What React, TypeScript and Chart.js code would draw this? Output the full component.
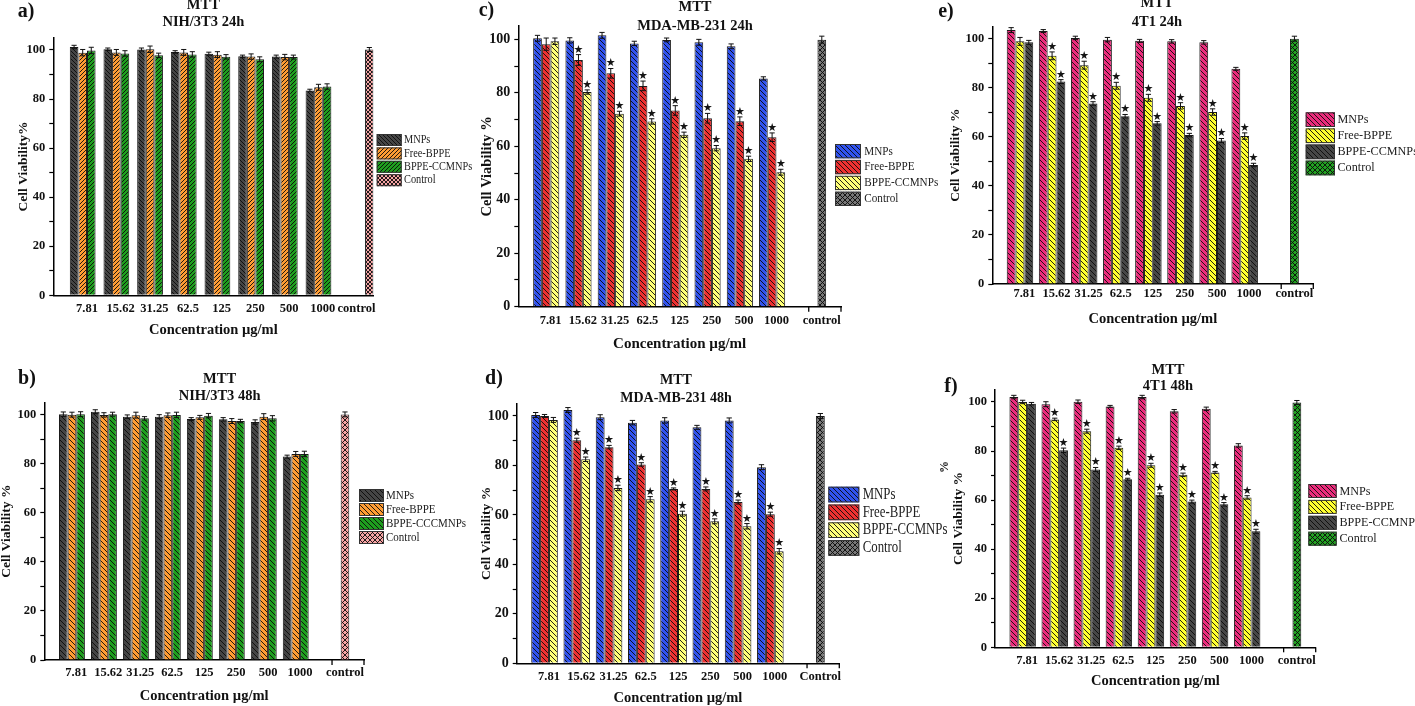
import React, { useEffect, useRef } from 'react';
import { Chart, registerables } from 'chart.js';

Chart.register(...registerables);

const PAGE_W = 1415;
const PAGE_H = 706;

// ---------------- data ----------------
const CONCENTRATIONS = ['7.81', '15.62', '31.25', '62.5', '125', '250', '500', '1000'];
const Y_TICKS = [0, 10, 20, 30, 40, 50, 60, 70, 80, 90, 100];
const Y_LABEL_STEP = 20;
const X_TITLE = 'Concentration µg/ml';

const SERIES_A = ['MNPs', 'Free-BPPE', 'BPPE-CCMNPs', 'Control'];
const SERIES_B = ['MNPs', 'Free-BPPE', 'BPPE-CCCMNPs', 'Control'];
const SERIES_CDEF = ['MNPs', 'Free-BPPE', 'BPPE-CCMNPs', 'Control'];

const NO_STARS = [0, 0, 0, 0, 0, 0, 0, 0];
const SIG_STARS = [0, 1, 1, 1, 1, 1, 1, 1];

// a) NIH/3T3 24h
const A_MNPS = [101.2, 100.3, 100.2, 99.2, 98.5, 97.4, 97.3, 83.5];
const A_FREE = [98.9, 99.0, 100.3, 99.0, 98.1, 97.3, 97.1, 84.8];
const A_BPPE = [99.8, 98.6, 97.8, 98.2, 97.2, 96.2, 97.1, 85.1];
const A_CONTROL = [100.2];
const A_MNPS_ERR = [0.7, 0.5, 0.6, 0.5, 0.6, 0.5, 0.6, 0.5];
const A_FREE_ERR = [1.3, 1.2, 1.3, 1.2, 1.2, 1.1, 1.1, 1.2];
const A_BPPE_ERR = [1.3, 1.1, 0.9, 1.1, 0.9, 1.0, 0.8, 1.1];
const A_CONTROL_ERR = [0.8];

// b) NIH/3T3 48h
const B_MNPS = [100.2, 101.2, 99.2, 99.2, 98.2, 98.1, 97.0, 82.9];
const B_FREE = [100.0, 99.9, 99.8, 99.8, 98.9, 97.4, 99.2, 84.0];
const B_BPPE = [100.2, 100.2, 98.5, 99.9, 99.6, 97.4, 98.5, 84.0];
const B_CONTROL = [100.1];
const B_MNPS_ERR = [0.9, 0.8, 0.7, 0.8, 0.6, 0.7, 0.9, 0.6];
const B_FREE_ERR = [1.0, 0.9, 1.2, 0.9, 0.8, 1.0, 1.2, 1.0];
const B_BPPE_ERR = [1.0, 0.8, 0.7, 1.1, 0.9, 0.7, 1.1, 1.1];
const B_CONTROL_ERR = [1.0];

// c) MDA-MB-231 24h
const C_MNPS = [100.4, 99.6, 101.5, 98.5, 99.8, 98.9, 97.4, 85.4];
const C_FREE = [98.2, 92.3, 87.3, 82.6, 73.4, 70.5, 69.4, 63.4];
const C_BPPE = [99.3, 80.3, 72.2, 69.3, 64.3, 59.3, 55.3, 50.3];
const C_CONTROL = [99.9];
const C_MNPS_ERR = [1.1, 1.0, 1.1, 0.8, 0.7, 1.1, 0.9, 0.6];
const C_FREE_ERR = [2.3, 2.0, 1.8, 1.8, 1.8, 1.8, 1.6, 1.6];
const C_BPPE_ERR = [1.2, 0.8, 0.9, 1.0, 1.0, 1.0, 1.0, 1.1];
const C_CONTROL_ERR = [1.3];

// d) MDA-MB-231 48h
const D_MNPS = [100.4, 102.4, 99.5, 97.3, 98.2, 95.4, 98.2, 79.3];
const D_FREE = [100.0, 90.2, 87.4, 80.4, 70.5, 70.5, 65.2, 60.3];
const D_BPPE = [98.4, 82.5, 70.9, 66.3, 60.5, 57.4, 55.4, 45.3];
const D_CONTROL = [100.0];
const D_MNPS_ERR = [1.0, 1.0, 1.0, 0.9, 1.1, 0.8, 1.0, 1.0];
const D_FREE_ERR = [0.6, 0.8, 0.7, 0.7, 0.4, 0.8, 0.8, 0.8];
const D_BPPE_ERR = [1.0, 0.9, 1.1, 1.1, 1.0, 1.0, 1.1, 1.1];
const D_CONTROL_ERR = [1.0];

// e) 4T1 24h
const E_MNPS = [103.5, 103.1, 100.3, 99.6, 99.1, 98.9, 98.5, 87.7];
const E_FREE = [98.9, 93.0, 89.2, 80.8, 75.9, 72.6, 70.1, 60.3];
const E_BPPE = [98.5, 82.5, 73.6, 68.4, 65.5, 60.7, 58.5, 48.5];
const E_CONTROL = [100.0];
const E_MNPS_ERR = [1.0, 0.6, 0.7, 0.9, 0.6, 0.7, 0.7, 0.6];
const E_FREE_ERR = [1.6, 1.6, 1.6, 1.4, 1.4, 1.3, 1.3, 1.3];
const E_BPPE_ERR = [0.8, 0.8, 0.7, 0.7, 0.7, 0.7, 0.8, 0.7];
const E_CONTROL_ERR = [1.0];

// f) 4T1 48h
const F_MNPS = [102.0, 99.1, 100.1, 98.2, 102.0, 96.2, 97.2, 82.3];
const F_FREE = [100.0, 92.9, 88.1, 81.3, 74.2, 70.3, 71.3, 61.1];
const F_BPPE = [99.3, 80.3, 72.5, 68.5, 62.2, 59.4, 58.3, 47.3];
const F_CONTROL = [99.8];
const F_MNPS_ERR = [0.7, 1.0, 0.7, 0.4, 0.7, 0.7, 0.7, 0.7];
const F_FREE_ERR = [0.7, 0.5, 0.8, 0.7, 0.8, 0.7, 0.4, 0.7];
const F_BPPE_ERR = [0.5, 0.9, 0.8, 0.4, 0.7, 0.6, 0.7, 0.8];
const F_CONTROL_ERR = [0.8];

// ---------------- styles ----------------
const NIH_COLORS = ['#454545', '#ff9c33', '#1e9e1e', '#f6a4a4'];
const MDA_COLORS = ['#3153ee', '#ee3131', '#ffff77', '#777777'];
const T41_COLORS = ['#ec2c7c', '#ffff2e', '#474747', '#22a022'];

const SERIF = '"Liberation Serif", "Times New Roman", serif';

const PANELS: any[] = [
  {
    id: 'a', letter: 'a)', titles: ['MTT', 'NIH/3T3 24h'], yTitle: 'Cell Viability%', ctrlLabel: 'control',
    series: SERIES_A, values: [A_MNPS, A_FREE, A_BPPE], errors: [A_MNPS_ERR, A_FREE_ERR, A_BPPE_ERR],
    stars: [NO_STARS, NO_STARS, NO_STARS], control: A_CONTROL, controlErr: A_CONTROL_ERR,
    colors: NIH_COLORS, hatch: ['\\', '/', '/', 'x'], gap: 4,
    L: 53.3, R: 373.3, T: 37.7, B: 295.3, xMax: 8.5, cp: 1.02, ctrlTick: 8,
    yTitleX: 23.3, yTitleFs: 13.5, xTitleY: 330, xTitleFs: 14.5, xTickFs: 12.5, xTickPad: 0.5, yTickFs: 12.5,
    letterPos: [26, 11.5], titleX: 203.3, titleY: [5, 22], titleFs: 14.5,
    legend: { x: 376.7, top: 134, pitch: 13.4, w: 25, h: 12, textX: 404, fs: 12, sx: 0.86 },
    extraTicks: [], extras: [],
  },
  {
    id: 'b', letter: 'b)', titles: ['MTT', 'NIH/3T3 48h'], yTitle: 'Cell Viability %', ctrlLabel: 'control',
    series: SERIES_B, values: [B_MNPS, B_FREE, B_BPPE], errors: [B_MNPS_ERR, B_FREE_ERR, B_BPPE_ERR],
    stars: [NO_STARS, NO_STARS, NO_STARS], control: B_CONTROL, controlErr: B_CONTROL_ERR,
    colors: NIH_COLORS, hatch: ['\\', '\\', '\\', 'x'], gap: 5,
    L: 44.3, R: 364, T: 402.4, B: 660, xMax: 9, cp: 1.08, ctrlTick: 8.405,
    yTitleX: 6.7, yTitleFs: 13.5, xTitleY: 696, xTitleFs: 14.5, xTickFs: 12.5, xTickPad: 0.3, yTickFs: 12.5,
    letterPos: [27, 379], titleX: 219.6, titleY: [379.3, 396.7], titleFs: 14.5,
    legend: { x: 359, top: 489, pitch: 14, w: 25, h: 13, textX: 386, fs: 12.5, sx: 0.88 },
    extraTicks: [8, 9], extras: [],
  },
  {
    id: 'c', letter: 'c)', titles: ['MTT', 'MDA-MB-231 24h'], yTitle: 'Cell Viability %', ctrlLabel: 'control',
    series: SERIES_CDEF, values: [C_MNPS, C_FREE, C_BPPE], errors: [C_MNPS_ERR, C_FREE_ERR, C_BPPE_ERR],
    stars: [NO_STARS, SIG_STARS, SIG_STARS], control: C_CONTROL, controlErr: C_CONTROL_ERR,
    colors: MDA_COLORS, hatch: ['\\', '\\', '\\', 'x'], gap: 5,
    L: 518.3, R: 841, T: 26, B: 306.7, xMax: 9, cp: 1.08, ctrlTick: 8.405,
    yTitleX: 487, yTitleFs: 14.5, xTitleY: 344.3, xTitleFs: 15, xTickFs: 12.5, xTickPad: 1.8, yTickFs: 14,
    letterPos: [486.5, 11], titleX: 695, titleY: [7.5, 26.5], titleFs: 14.5,
    legend: { x: 835, top: 144, pitch: 15.9, w: 26, h: 14.3, textX: 864.3, fs: 13, sx: 0.86 },
    extraTicks: [8, 9], extras: [],
  },
  {
    id: 'd', letter: 'd)', titles: ['MTT', 'MDA-MB-231 48h'], yTitle: 'Cell Viability %', ctrlLabel: 'Control',
    series: SERIES_CDEF, values: [D_MNPS, D_FREE, D_BPPE], errors: [D_MNPS_ERR, D_FREE_ERR, D_BPPE_ERR],
    stars: [NO_STARS, SIG_STARS, SIG_STARS], control: D_CONTROL, controlErr: D_CONTROL_ERR,
    colors: MDA_COLORS, hatch: ['\\', '\\', '\\', 'x'], gap: 5,
    L: 516.7, R: 839.3, T: 403.6, B: 663.3, xMax: 9, cp: 1.1, ctrlTick: 8.41,
    yTitleX: 487, yTitleFs: 13.5, xTitleY: 698.3, xTitleFs: 14.5, xTickFs: 12.5, xTickPad: 1.4, yTickFs: 14,
    letterPos: [494, 379], titleX: 676, titleY: [380.5, 398.3], titleFs: 14,
    legend: { x: 828.3, top: 486.7, pitch: 17.8, w: 31, h: 15.7, textX: 862.7, fs: 16, sx: 0.8 },
    extraTicks: [8, 9], extras: [],
  },
  {
    id: 'e', letter: 'e)', titles: ['MTT', '4T1 24h'], yTitle: 'Cell Viability %', ctrlLabel: 'control',
    series: SERIES_CDEF, values: [E_MNPS, E_FREE, E_BPPE], errors: [E_MNPS_ERR, E_FREE_ERR, E_BPPE_ERR],
    stars: [NO_STARS, SIG_STARS, SIG_STARS], control: E_CONTROL, controlErr: E_CONTROL_ERR,
    colors: T41_COLORS, hatch: ['\\', '\\', '\\', 'x'], gap: 5,
    L: 992.3, R: 1313.3, T: 26.4, B: 284, xMax: 9, cp: 1.1, ctrlTick: 8.41,
    yTitleX: 955.3, yTitleFs: 13.5, xTitleY: 319.3, xTitleFs: 14.5, xTickFs: 12.5, xTickPad: -2.5, yTickFs: 12.5,
    letterPos: [946, 12], titleX: 1157, titleY: [3.5, 22.3], titleFs: 14.5,
    legend: { x: 1305.7, top: 112.3, pitch: 16.1, w: 29.3, h: 14.7, textX: 1337.5, fs: 13.5, sx: 0.9 },
    extraTicks: [8, 9], extras: [],
  },
  {
    id: 'f', letter: 'f)', titles: ['MTT', '4T1 48h'], yTitle: 'Cell Viability %', ctrlLabel: 'control',
    series: SERIES_CDEF, values: [F_MNPS, F_FREE, F_BPPE], errors: [F_MNPS_ERR, F_FREE_ERR, F_BPPE_ERR],
    stars: [NO_STARS, SIG_STARS, SIG_STARS], control: F_CONTROL, controlErr: F_CONTROL_ERR,
    colors: T41_COLORS, hatch: ['\\', '\\', '\\', 'x'], gap: 5,
    L: 995, R: 1315.7, T: 389.7, B: 647.3, xMax: 9, cp: 1.1, ctrlTick: 8.41,
    yTitleX: 958.7, yTitleFs: 13.5, xTitleY: 681.7, xTitleFs: 14.5, xTickFs: 12.5, xTickPad: 0.7, yTickFs: 12.5,
    letterPos: [951, 387], titleX: 1168, titleY: [370, 386.7], titleFs: 14.5,
    legend: { x: 1308.3, top: 484, pitch: 15.9, w: 28.4, h: 14, textX: 1339.5, fs: 13.5, sx: 0.9 },
    extraTicks: [8, 9], extras: [{ text: '%', x: 945, y: 467, fs: 12 }],
  },
];

// ---------------- helpers ----------------
function makePattern(ctx: CanvasRenderingContext2D, color: string, dir: string, gap: number) {
  const tile = document.createElement('canvas');
  tile.width = gap;
  tile.height = gap;
  const g = tile.getContext('2d') as CanvasRenderingContext2D;
  g.fillStyle = color;
  g.fillRect(0, 0, gap, gap);
  g.strokeStyle = 'rgba(10,10,10,0.9)';
  g.lineWidth = 1;
  g.beginPath();
  const draw = (d: string) => {
    for (const k of [-gap, 0, gap]) {
      if (d === '\\') {
        g.moveTo(k, 0);
        g.lineTo(k + gap, gap);
      } else {
        g.moveTo(k, gap);
        g.lineTo(k + gap, 0);
      }
    }
  };
  if (dir === 'x') {
    draw('\\');
    draw('/');
  } else {
    draw(dir);
  }
  g.stroke();
  return ctx.createPattern(tile, 'repeat') as CanvasPattern;
}

const STAR_FS = 11;

const decorPlugin = {
  id: 'panelDecor',
  afterDatasetsDraw(chart: any) {
    const ctx = chart.ctx as CanvasRenderingContext2D;
    const yScale = chart.scales.y;
    chart.data.datasets.forEach((ds: any, di: number) => {
      const meta = chart.getDatasetMeta(di);
      meta.data.forEach((el: any, i: number) => {
        const pt = ds.data[i];
        if (!pt || pt.y == null) return;
        const err = (ds.errors && ds.errors[i]) || 0;
        const { x, width } = el.getProps(['x', 'width'], true);
        const yTop = yScale.getPixelForValue(pt.y + err);
        const yBot = yScale.getPixelForValue(pt.y - err);
        const cap = width * 0.3;
        ctx.save();
        ctx.strokeStyle = '#111';
        ctx.lineWidth = 1;
        ctx.beginPath();
        ctx.moveTo(x, yBot);
        ctx.lineTo(x, yTop);
        ctx.moveTo(x - cap, yTop);
        ctx.lineTo(x + cap, yTop);
        ctx.moveTo(x - cap, yBot);
        ctx.lineTo(x + cap, yBot);
        ctx.stroke();
        if (ds.stars && ds.stars[i]) {
          ctx.fillStyle = '#151515';
          ctx.font = `${STAR_FS}px "DejaVu Sans"`;
          ctx.textAlign = 'center';
          ctx.textBaseline = 'alphabetic';
          ctx.fillText('★', x, yTop - 6 + STAR_FS * 0.36);
        }
        ctx.restore();
      });
    });
  },
  afterDraw(chart: any, _args: any, opts: any) {
    const ctx = chart.ctx as CanvasRenderingContext2D;
    const area = chart.chartArea;
    ctx.save();
    ctx.fillStyle = '#111';
    // panel letter
    ctx.font = `bold 20px ${SERIF}`;
    ctx.textAlign = 'center';
    ctx.textBaseline = 'middle';
    ctx.fillText(opts.letter, opts.letterPos[0], opts.letterPos[1]);
    // titles
    ctx.font = `bold ${opts.titleFs}px ${SERIF}`;
    opts.titles.forEach((t: string, i: number) => {
      ctx.fillText(t, opts.titleX, opts.titleY[i]);
    });
    // extra x tick marks
    ctx.strokeStyle = '#000';
    ctx.lineWidth = 1.3;
    const xs = chart.scales.x;
    opts.extraTicks.forEach((v: number) => {
      const px = xs.getPixelForValue(v);
      ctx.beginPath();
      ctx.moveTo(px, area.bottom);
      ctx.lineTo(px, area.bottom + 5);
      ctx.stroke();
    });
    // legend
    const lg = opts.legend;
    chart.data.datasets.forEach((ds: any, i: number) => {
      const y = lg.top + i * lg.pitch;
      ctx.fillStyle = ds.backgroundColor;
      ctx.fillRect(lg.x, y, lg.w, lg.h);
      ctx.strokeStyle = '#333';
      ctx.lineWidth = 1;
      ctx.strokeRect(lg.x + 0.5, y + 0.5, lg.w - 1, lg.h - 1);
      ctx.save();
      ctx.fillStyle = '#222';
      ctx.font = `${lg.fs}px ${SERIF}`;
      ctx.textAlign = 'left';
      ctx.textBaseline = 'middle';
      ctx.translate(lg.textX, y + lg.h / 2);
      ctx.scale(lg.sx, 1);
      ctx.fillText(ds.label, 0, 0);
      ctx.restore();
    });
    // stray glyphs
    opts.extras.forEach((e: any) => {
      ctx.save();
      ctx.fillStyle = '#111';
      ctx.font = `bold ${e.fs}px ${SERIF}`;
      ctx.translate(e.x, e.y);
      ctx.rotate(-Math.PI / 2);
      ctx.textAlign = 'center';
      ctx.textBaseline = 'middle';
      ctx.fillText(e.text, 0, 0);
      ctx.restore();
    });
    ctx.restore();
  },
};

function buildConfig(p: any, ctx: CanvasRenderingContext2D): any {
  const patterns = p.colors.map((c: string, k: number) => makePattern(ctx, c, p.hatch[k], p.gap));
  const ctrlIndex = CONCENTRATIONS.length;

  const datasets: any[] = [0, 1, 2].map((k) => ({
    label: p.series[k],
    data: CONCENTRATIONS.map((_, i) => ({ x: i, y: p.values[k][i] })),
    errors: p.errors[k],
    stars: p.stars[k],
    backgroundColor: patterns[k],
    borderColor: '#1a1a1a',
    borderWidth: 1,
    categoryPercentage: p.cp,
    barPercentage: 1,
  }));
  datasets.push({
    label: p.series[3],
    data: p.control.map((v: number) => ({ x: ctrlIndex, y: v })),
    errors: p.controlErr,
    stars: [0],
    backgroundColor: patterns[3],
    borderColor: '#1a1a1a',
    borderWidth: 1,
    categoryPercentage: p.cp,
    barPercentage: 1,
  });

  const padLeft = Math.max(0, p.yTitleX - p.yTitleFs / 2);
  const yw = p.L - padLeft;
  const xScaleBottom = p.xTitleY + p.xTitleFs / 2;
  const xh = xScaleBottom - p.B;

  const xTickValues = [-1, ...CONCENTRATIONS.map((_, i) => i), p.ctrlTick];
  const xLabel = (v: number) => {
    if (v === p.ctrlTick) return p.ctrlLabel;
    if (Number.isInteger(v) && v >= 0 && v < CONCENTRATIONS.length) return CONCENTRATIONS[v];
    return '';
  };

  return {
    type: 'bar',
    data: { datasets },
    options: {
      responsive: false,
      maintainAspectRatio: false,
      animation: false,
      events: [],
      layout: {
        padding: { left: padLeft, right: PAGE_W - p.R, top: p.T, bottom: PAGE_H - xScaleBottom },
      },
      plugins: {
        legend: { display: false },
        tooltip: { enabled: false },
        title: { display: false },
        panelDecor: {
          letter: p.letter, letterPos: p.letterPos, titles: p.titles, titleX: p.titleX, titleY: p.titleY,
          titleFs: p.titleFs, legend: p.legend, extraTicks: p.extraTicks, extras: p.extras,
        },
      },
      scales: {
        x: {
          type: 'linear',
          min: -1,
          max: p.xMax,
          bounds: 'data',
          offset: false,
          afterBuildTicks: (s: any) => {
            s.ticks = xTickValues.map((v) => ({ value: v }));
          },
          afterFit: (s: any) => {
            s.height = xh;
          },
          ticks: {
            autoSkip: false,
            maxRotation: 0,
            minRotation: 0,
            padding: p.xTickPad,
            color: '#111',
            font: { family: SERIF, size: p.xTickFs, weight: 'bold', lineHeight: 1.2 },
            callback: (v: any) => xLabel(v),
          },
          grid: {
            drawOnChartArea: false,
            drawTicks: true,
            tickLength: 5,
            tickWidth: 1.3,
            tickColor: (c: any) => (c.tick && c.tick.value === -1 ? '#000' : 'rgba(0,0,0,0)'),
          },
          border: { display: true, color: '#000', width: 1.5 },
          title: {
            display: true,
            text: X_TITLE,
            color: '#111',
            padding: 0,
            font: { family: SERIF, size: p.xTitleFs, weight: 'bold', lineHeight: 1 },
          },
        },
        y: {
          type: 'linear',
          min: 0,
          max: 105,
          bounds: 'data',
          afterBuildTicks: (s: any) => {
            s.ticks = Y_TICKS.map((v) => ({ value: v }));
          },
          afterFit: (s: any) => {
            s.width = yw;
          },
          ticks: {
            autoSkip: false,
            padding: 4,
            color: '#111',
            font: { family: SERIF, size: p.yTickFs, weight: 'bold' },
            callback: (v: any) => (v % Y_LABEL_STEP === 0 ? String(v) : ''),
          },
          grid: {
            drawOnChartArea: false,
            drawTicks: true,
            tickLength: 4,
            tickWidth: 1.2,
            tickColor: '#000',
          },
          border: { display: true, color: '#000', width: 1.5 },
          title: {
            display: true,
            text: p.yTitle,
            color: '#111',
            padding: 0,
            font: { family: SERIF, size: p.yTitleFs, weight: 'bold', lineHeight: 1 },
          },
        },
      },
    },
    plugins: [decorPlugin],
  };
}

function PanelChart({ panel }: { panel: any }) {
  const ref = useRef<HTMLCanvasElement | null>(null);
  useEffect(() => {
    const canvas = ref.current;
    if (!canvas) return;
    const ctx = canvas.getContext('2d') as CanvasRenderingContext2D;
    const chart = new Chart(ctx, buildConfig(panel, ctx));
    return () => {
      chart.destroy();
    };
  }, [panel]);
  return (
    <canvas
      ref={ref}
      width={PAGE_W}
      height={PAGE_H}
      style={{ position: 'absolute', left: 0, top: 0, width: PAGE_W, height: PAGE_H, pointerEvents: 'none' }}
    />
  );
}

export default function App() {
  return (
    <div
      style={{
        position: 'absolute',
        left: 0,
        top: 0,
        width: PAGE_W,
        height: PAGE_H,
        background: '#fff',
        overflow: 'hidden',
      }}
    >
      {PANELS.map((p) => (
        <PanelChart key={p.id} panel={p} />
      ))}
    </div>
  );
}
